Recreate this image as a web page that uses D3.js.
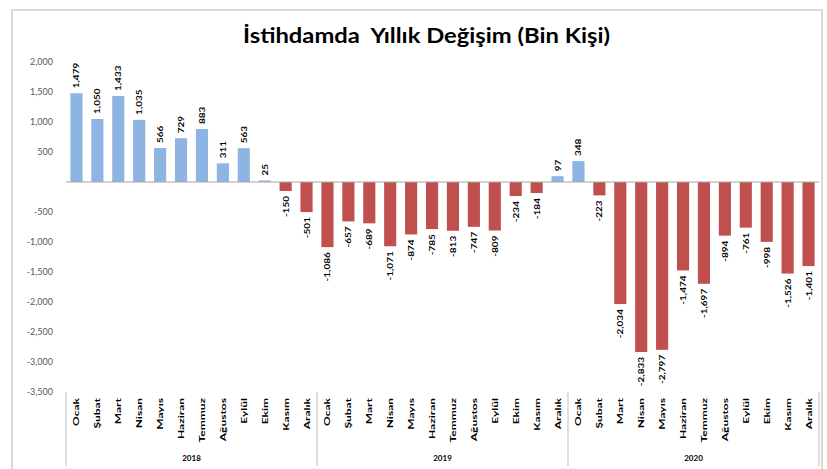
<!DOCTYPE html>
<html><head><meta charset="utf-8">
<script src="https://cdn.jsdelivr.net/npm/d3@7"></script>
<style>body{margin:0;background:#fff}</style>
</head><body><svg id="c" width="827" height="469"></svg>
<script>
const months = ["Ocak","Şubat","Mart","Nisan","Mayıs","Haziran","Temmuz","Ağustos","Eylül","Ekim","Kasım","Aralık"];
const years = ["2018","2019","2020"];
const values2018 = [1479,1050,1433,1035,566,729,883,311,563,25,-150,-501];
const values2019 = [-1086,-657,-689,-1071,-874,-785,-813,-747,-809,-234,-184,97];
const values2020 = [348,-223,-2034,-2833,-2797,-1474,-1697,-894,-761,-998,-1526,-1401];
const yTicks = [2000,1500,1000,500,-500,-1000,-1500,-2000,-2500,-3000,-3500];
const title = "İstihdamda  Yıllık Değişim (Bin Kişi)";

const data = [];
[values2018,values2019,values2020].forEach((arr,yi)=>arr.forEach((v,mi)=>data.push({key:years[yi]+"-"+mi,year:years[yi],month:months[mi],v})));

const fmt = d3.formatLocale({decimal:".",thousands:",",grouping:[3],currency:["",""],minus:"-"}).format(",");

const svg = d3.select("#c");
const font = "Lato, 'Open Sans', sans-serif";
svg.append("rect").attr("x",12).attr("y",10).attr("width",810).attr("height",470).attr("fill","#fff").attr("stroke","#d9d9d9").attr("stroke-width",2);

const x0 = 66, x1 = 819;
const x = d3.scaleBand().domain(data.map(d=>d.key)).range([x0,x1]).paddingInner(0.42).paddingOuter(0.21);
const y = d3.scaleLinear().domain([-3500,2000]).range([392,62]);

svg.append("text").attr("x",243).attr("y",43).attr("font-family",font).attr("font-weight","bold").attr("font-size",20).attr("fill","#000")
  .attr("textLength",367).attr("lengthAdjust","spacingAndGlyphs").style("white-space","pre").text(title);

// y axis labels
const yAxis = d3.axisLeft(y).tickValues(yTicks).tickFormat(fmt).tickSize(0).tickPadding(0);
const ya = svg.append("g").attr("transform","translate(53,0)").call(yAxis);
ya.select(".domain").remove();
ya.selectAll("text").attr("font-family",font).attr("font-size",9).attr("fill","#595959");

// bars
svg.append("g").selectAll("rect").data(data).join("rect")
 .attr("x",d=>x(d.key)).attr("width",x.bandwidth())
 .attr("y",d=>y(Math.max(0,d.v))).attr("height",d=>Math.abs(y(d.v)-y(0)))
 .attr("fill",d=>d.v>=0?"#8DB4E2":"#C0504D");

// zero line
svg.append("line").attr("x1",x0).attr("x2",x1).attr("y1",y(0)).attr("y2",y(0)).attr("stroke","#a6a6a6").attr("stroke-width",1);

// value labels
svg.append("g").selectAll("text").data(data).join("text")
 .attr("transform",d=>{const cx=x(d.key)+x.bandwidth()/2+3; const yy=d.v>=0?y(d.v)-5:y(d.v)+5; return `translate(${cx},${yy}) rotate(-90) scale(1.25,1)`;})
 .attr("text-anchor",d=>d.v>=0?"start":"end")
 .attr("font-family",font).attr("font-weight","bold").attr("font-size",8).attr("fill","#000")
 .text(d=>fmt(d.v));

// category axis
const cat = svg.append("g");
cat.selectAll("text").data(data).join("text")
 .attr("transform",d=>`translate(${x(d.key)+x.bandwidth()/2+3},398) rotate(-90) scale(1.5,1)`)
 .attr("text-anchor","end").attr("font-family",font).attr("font-weight","bold").attr("font-size",8).attr("fill","#000")
 .text(d=>d.month);
const step = (x1-x0)/years.length;
years.forEach((yr,i)=>{
  svg.append("text").attr("x",x0+step*(i+0.5)).attr("y",461).attr("text-anchor","middle").attr("font-family",font).attr("font-weight","bold").attr("font-size",8).attr("fill","#000").text(yr);
});
[0,1,2,3].forEach(i=>{
  const xx = x0+step*i;
  svg.append("line").attr("x1",xx).attr("x2",xx).attr("y1",392).attr("y2",466).attr("stroke","#bfbfbf");
});
</script></body></html>
